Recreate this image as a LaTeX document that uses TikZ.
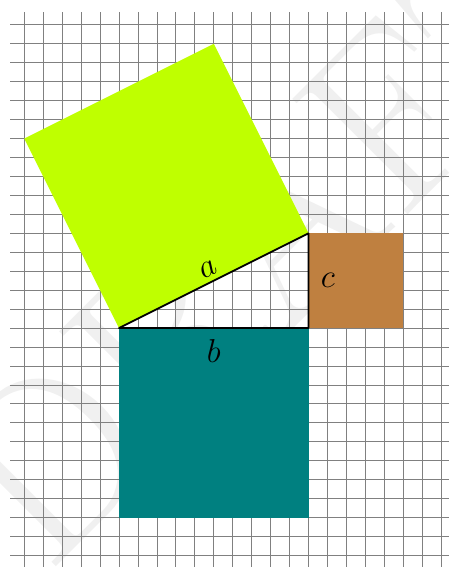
\documentclass[tikz,border=0pt]{standalone}
\begin{document}
\begin{tikzpicture}[x=0.5cm,y=0.5cm,
  lbl/.style={font=\Huge},
  gridline/.style={draw=gray, line width=0.6pt},
  edge/.style={draw=black, line width=1.3pt, line join=round}]
\useasboundingbox (-6.28,-12.66) rectangle (17.41,17.31);
\node[rotate=45, text=gray!12, font=\fontsize{180}{180}\selectfont] (wm) at (8.1,5.0) {DRAFT};
\draw[gridline, step=1] (-5.75,-12.6) grid (17.4,16.7);
\coordinate (A) at (0,0);
\coordinate (B) at (10,0);
\coordinate (C) at (10,5);
\coordinate (D) at (5,15);
\coordinate (E) at (-5,10);
\coordinate (F) at (15,5);
\coordinate (G) at (0,-10);
\fill[lime] (A) -- (C) -- (D) -- (E) -- cycle;
\fill[teal] (G) rectangle (B);
\fill[brown] (B) rectangle (F);
\draw[edge] (A) -- (B) -- (C) -- cycle;
\path (A) -- node[lbl, below, inner sep=8pt] (lb) {$b$} (B);
\path (B) -- node[lbl, right, inner sep=9pt] (lc) {$c$} (C);
\path (A) -- node[lbl, above, sloped, inner sep=4pt] (la) {$a$} (C);
\end{tikzpicture}
\end{document}
